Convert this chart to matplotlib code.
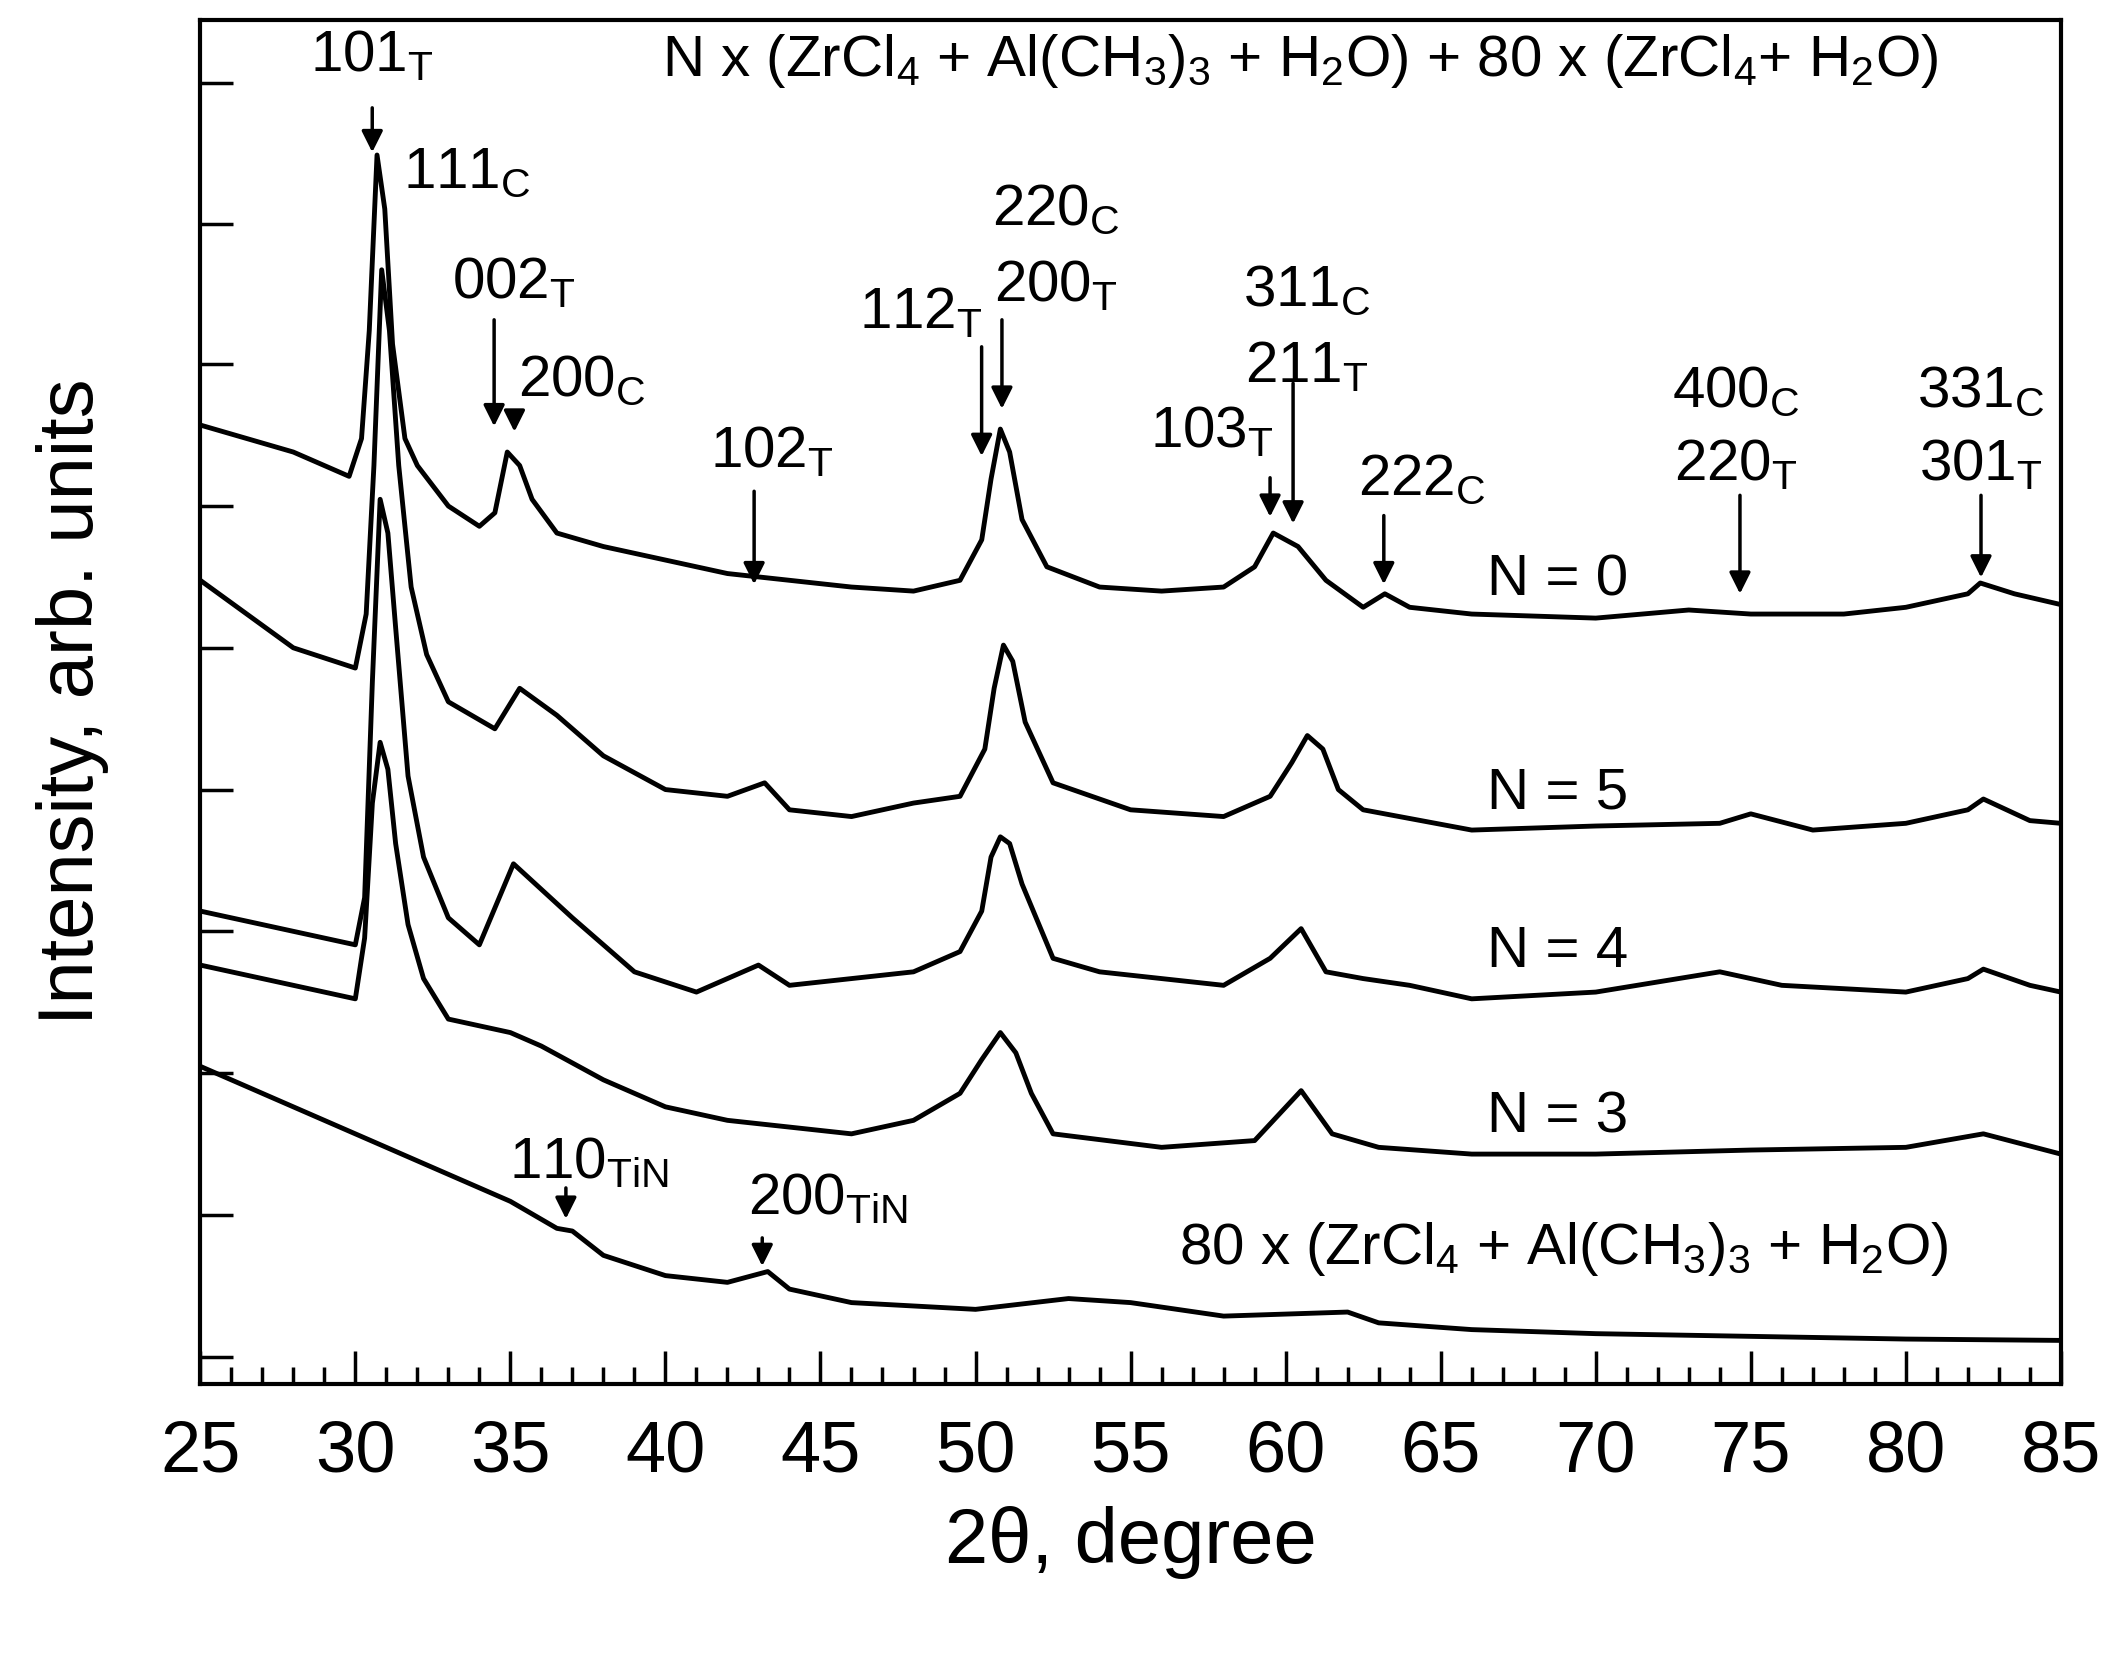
import numpy as np
import matplotlib
matplotlib.use("Agg")
import matplotlib.pyplot as plt

plt.rcParams['font.family'] = ['Liberation Sans', 'DejaVu Sans']
plt.rcParams['mathtext.fontset'] = 'custom'
plt.rcParams['mathtext.rm'] = 'Liberation Sans'

# traces (intensity in arb. units, 0 = bottom of axes)
x_n0 = [25, 28, 29, 29.8, 30.2, 30.45, 30.7, 30.95, 31.2, 31.6, 32, 33, 34, 34.5, 34.9, 35.3, 35.7, 36.5, 38, 40, 42,
        44, 46, 48, 49.5, 50.2, 50.5, 50.8, 51.1, 51.5, 52.3, 54, 56, 58, 59, 59.6, 60.4, 61.3, 62.5, 63.2, 64, 66,
        70, 73, 75, 78, 80, 82, 82.4, 83.5, 85]
y_n0 = [710, 690, 680, 672, 700, 780, 910, 870, 770, 700, 680, 650, 635, 645, 690, 680, 655, 630, 620, 610, 600,
        595, 590, 587, 595, 625, 670, 707, 690, 640, 605, 590, 587, 590, 605, 630, 620, 595, 575, 585, 575, 570,
        567, 573, 570, 570, 575, 585, 593, 585, 577]

x_n5 = [25, 28, 30, 30.35, 30.6, 30.85, 31.1, 31.4, 31.8, 32.3, 33, 34.5, 35.3, 36.5, 38, 40, 42, 43.2, 44, 46, 48,
        49.5, 50.3, 50.6, 50.9, 51.2, 51.6, 52.5, 55, 58, 59.5, 60.2, 60.7, 61.2, 61.7, 62.5, 66, 70, 74, 75, 77,
        80, 82, 82.5, 84, 85]
y_n5 = [595, 545, 530, 570, 680, 825, 780, 680, 590, 540, 505, 485, 515, 495, 465, 440, 435, 445, 425, 420, 430,
        435, 470, 515, 547, 535, 490, 445, 425, 420, 435, 460, 480, 470, 440, 425, 410, 413, 415, 422, 410,
        415, 425, 433, 417, 415]

x_n4 = [25, 28, 30, 30.3, 30.55, 30.8, 31.05, 31.3, 31.7, 32.2, 33, 34, 35.1, 37, 39, 41, 43, 44, 46, 48, 49.5,
        50.2, 50.5, 50.8, 51.1, 51.5, 52.5, 54, 56, 58, 59.5, 60.5, 61.3, 62.5, 64, 66, 70, 74, 76, 80, 82, 82.5,
        84, 85]
y_n4 = [350, 335, 325, 360, 520, 655, 630, 560, 450, 390, 345, 325, 385, 345, 305, 290, 310, 295, 300, 305, 320,
        350, 390, 405, 400, 370, 315, 305, 300, 295, 315, 337, 305, 300, 295, 285, 290, 305, 295, 290, 300, 307,
        295, 290]

x_n3 = [25, 28, 30, 30.3, 30.55, 30.8, 31.05, 31.3, 31.7, 32.2, 33, 34, 35, 36, 38, 40, 42, 44, 46, 48, 49.5,
        50.2, 50.8, 51.3, 51.8, 52.5, 56, 59, 60.5, 61.5, 63, 66, 70, 75, 80, 82.5, 85]
y_n3 = [310, 295, 285, 330, 430, 475, 455, 400, 340, 300, 270, 265, 260, 250, 225, 205, 195, 190, 185, 195, 215,
        240, 260, 245, 215, 185, 175, 180, 217, 185, 175, 170, 170, 173, 175, 185, 170]

x_ref = [25, 27, 30, 33, 35, 36.5, 37, 38, 40, 42, 43.3, 44, 46, 50, 53, 55, 58, 62, 63, 66, 70, 75, 80, 85]
y_ref = [235, 215, 185, 155, 135, 115, 113, 95, 80, 75, 83, 70, 60, 55, 63, 60, 50, 53, 45, 40, 37, 35, 33, 32]

traces = [(x_n0, y_n0), (x_n5, y_n5), (x_n4, y_n4), (x_n3, y_n3), (x_ref, y_ref)]


def d(px, py):
    return 25 + (px - 148) / 22.9, 1025 - py


S = lambda a, b: a + r'$_\mathregular{' + b + '}$'
# (text, label x, label y, arrow tail x, tail y, head x, head y) in reference pixels
peak_labels = [
    (S('101', 'T'), 275, 42, 275, 78, 275, 115),
    (S('111', 'C'), 345, 128, None, None, None, None),
    (S('002', 'T'), 380, 210, 365, 235, 365, 318),
    (S('200', 'C'), 430, 282, 380, 305, 380, 322),
    (S('102', 'T'), 570, 335, 557, 362, 557, 435),
    (S('112', 'T'), 680, 232, 725, 255, 725, 340),
    (S('220', 'C'), 780, 155, None, None, None, None),
    (S('200', 'T'), 780, 212, 740, 235, 740, 305),
    (S('311', 'C'), 965, 215, None, None, None, None),
    (S('211', 'T'), 965, 272, 955, 282, 955, 390),
    (S('103', 'T'), 895, 320, 938, 352, 938, 385),
    (S('222', 'C'), 1050, 355, 1022, 380, 1022, 435),
    (S('400', 'C'), 1282, 290, None, None, None, None),
    (S('220', 'T'), 1282, 345, 1285, 365, 1285, 442),
    (S('331', 'C'), 1463, 290, None, None, None, None),
    (S('301', 'T'), 1463, 345, 1463, 365, 1463, 430),
    (S('110', 'TiN'), 435, 862, 418, 878, 418, 905),
    (S('200', 'TiN'), 612, 888, 563, 915, 563, 940),
]
series_labels = [('N = 0', 1150, 430), ('N = 5', 1150, 588), ('N = 4', 1150, 705), ('N = 3', 1150, 828)]

fig = plt.figure(figsize=(21.17, 16.67), dpi=100)
ax = fig.add_axes([0.0946, 0.170, 0.8789, 0.818])
for xs, ys in traces:
    ax.plot(xs, ys, color='black', lw=3.5)

ax.set_xlim(25, 85)
ax.set_ylim(0, 1010)
ax.set_xticks(np.arange(25, 86, 5))
ax.set_xticks(np.arange(25, 86, 1), minor=True)
ax.set_yticks(1025 - np.array([62, 166, 270, 375, 480, 585, 690, 795, 900, 1005]))
ax.set_yticklabels([])
ax.tick_params(direction='in', length=24, width=2.5, labelsize=52, pad=26)
ax.tick_params(which='minor', direction='in', length=12, width=2.5)
ax.tick_params(axis='x', top=False)
for sp in ax.spines.values():
    sp.set_linewidth(3)
ax.set_xlabel('2θ, degree', fontsize=56, labelpad=14)
ax.set_ylabel('Intensity, arb. units', fontsize=56, labelpad=40)

fs = 42
for txt, tx, ty, ax0, ay0, ax1, ay1 in peak_labels:
    ax.text(*d(tx, ty), txt, fontsize=fs, ha='center', va='center')
    if ax0 is not None:
        ax.annotate('', xy=d(ax1, ay1), xytext=d(ax0, ay0),
                    arrowprops=dict(arrowstyle='-|>', color='black', lw=2.5, mutation_scale=32))
for txt, tx, ty in series_labels:
    ax.text(*d(tx, ty), txt, fontsize=fs, ha='center', va='center')
ax.text(*d(960, 45), r'N x (ZrCl$_\mathregular{4}$ + Al(CH$_\mathregular{3}$)$_\mathregular{3}$ + H$_\mathregular{2}$O) + 80 x (ZrCl$_\mathregular{4}$+ H$_\mathregular{2}$O)',
        fontsize=fs, ha='center', va='center')
ax.text(*d(1155, 925), r'80 x (ZrCl$_\mathregular{4}$ + Al(CH$_\mathregular{3}$)$_\mathregular{3}$ + H$_\mathregular{2}$O)',
        fontsize=fs, ha='center', va='center')

fig.savefig('out.png', dpi=100)
